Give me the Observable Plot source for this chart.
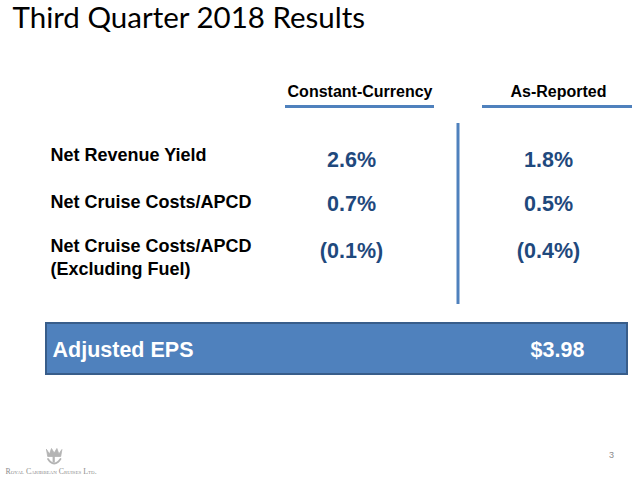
<!DOCTYPE html>
<html>
<head>
<meta charset="utf-8">
<script src="https://cdn.jsdelivr.net/npm/d3@7"></script>
<script src="https://cdn.jsdelivr.net/npm/@observablehq/plot@0.6"></script>
<style>
  html, body { margin: 0; padding: 0; background: #ffffff; }
  #chart svg { display: block; }
</style>
</head>
<body>
<div id="chart"></div>
<script>
// ---- Content ----
const title = "Third Quarter 2018 Results";
const columns = ["Constant-Currency", "As-Reported"];
const metrics = ["Net Revenue Yield", "Net Cruise Costs/APCD", "Net Cruise Costs/APCD\n(Excluding Fuel)"];
const constantCurrency = [2.6, 0.7, -0.1];
const asReported = [1.8, 0.5, -0.4];
const epsLabel = "Adjusted EPS";
const epsValue = 3.98;
const company = "Royal Caribbean Cruises Ltd.";
const pageNumber = 3;

// ---- Layout (slide coordinate system, 640 x 490) ----
const blue = "#4F81BD";
const darkBlue = "#1F497D";
const headerX = [359.5, 558];
const valueX = [351, 548];
const underline = [[285, 434], [482, 632]];
const labelY = [153, 200, 255.5];
const valueY = [159.5, 203.5, 251];

const fmtPct = v => v < 0 ? `(${Math.abs(v).toFixed(1)}%)` : `${v.toFixed(1)}%`;

const cells = [];
metrics.forEach((m, i) => {
  cells.push({col: 0, row: i, v: constantCurrency[i]});
  cells.push({col: 1, row: i, v: asReported[i]});
});

// Crown-and-anchor logo outline (decorative)
const crown = [[46,449],[49,453.5],[51,448],[53.7,452.5],[56.4,448],[58.4,453.5],[61.4,449],[60.2,456],[47.2,456],[46,449]];
const anchorCurve = [[47.5,458.5],[50,461.5],[53.7,463],[57.4,461.5],[60,458.5]];
const logoGray = "#b4b4b4";

const chart = Plot.plot({
  width: 640,
  height: 490,
  margin: 0,
  x: {domain: [0, 640], range: [0, 640], axis: null},
  y: {domain: [0, 490], range: [0, 490], axis: null},
  style: {background: "#ffffff", fontFamily: "'Liberation Sans', Arial, sans-serif"},
  marks: [
    // Title
    Plot.text([title], {x: 12, y: 18.5, text: d => d, textAnchor: "start", fontSize: 29.5,
      fontFamily: "Lato, 'Open Sans', sans-serif", fill: "#000000"}),
    // Column headers
    Plot.text(columns, {x: (d, i) => headerX[i], y: 91, text: d => d, fontSize: 16,
      fontWeight: "bold", fill: "#000000"}),
    Plot.ruleY(columns, {y: 106, x1: (d, i) => underline[i][0], x2: (d, i) => underline[i][1],
      stroke: blue, strokeWidth: 3}),
    // Vertical separator
    Plot.ruleX([columns[1]], {x: 457.5, y1: 123, y2: 304, stroke: blue, strokeWidth: 3}),
    // Row labels
    Plot.text(metrics, {x: 50, y: (d, i) => labelY[i], text: d => d, textAnchor: "start",
      fontSize: 18, fontWeight: "bold", lineHeight: 1.28, fill: "#000000"}),
    // Values
    Plot.text(cells, {x: d => valueX[d.col], y: d => valueY[d.row], text: d => fmtPct(d.v),
      fontSize: 21.5, fontWeight: "bold", fill: darkBlue}),
    // Adjusted EPS box
    Plot.rect([epsValue], {x1: 46, x2: 627, y1: 323, y2: 374, fill: blue, stroke: "#385D8A", strokeWidth: 2}),
    Plot.text([epsLabel], {x: 52, y: 350, text: d => d, textAnchor: "start", fontSize: 21.5,
      fontWeight: "bold", fill: "#ffffff"}),
    Plot.text([epsValue], {x: 557, y: 350, text: d => `$${d.toFixed(2)}`, fontSize: 21.5,
      fontWeight: "bold", fill: "#ffffff"}),
    // Footer: logo + company name + page number
    Plot.line(crown, {x: d => d[0], y: d => d[1], fill: logoGray, stroke: logoGray, strokeWidth: 0.8}),
    Plot.rect([0], {x1: 52.6, x2: 54.8, y1: 456, y2: 462.5, fill: logoGray}),
    Plot.line(anchorCurve, {x: d => d[0], y: d => d[1], stroke: logoGray, strokeWidth: 1.8, curve: "natural"}),
    Plot.text([company], {x: 5, y: 471, text: d => d, textAnchor: "start", fontSize: 7.85,
      fontFamily: "'Liberation Serif', 'DejaVu Serif', serif", fontVariant: "small-caps", fill: "#8c8c8c"}),
    Plot.text([pageNumber], {x: 611, y: 455, text: d => String(d), fontSize: 9, fill: "#8c8c8c"})
  ]
});

document.getElementById("chart").appendChild(chart);
</script>
</body>
</html>
